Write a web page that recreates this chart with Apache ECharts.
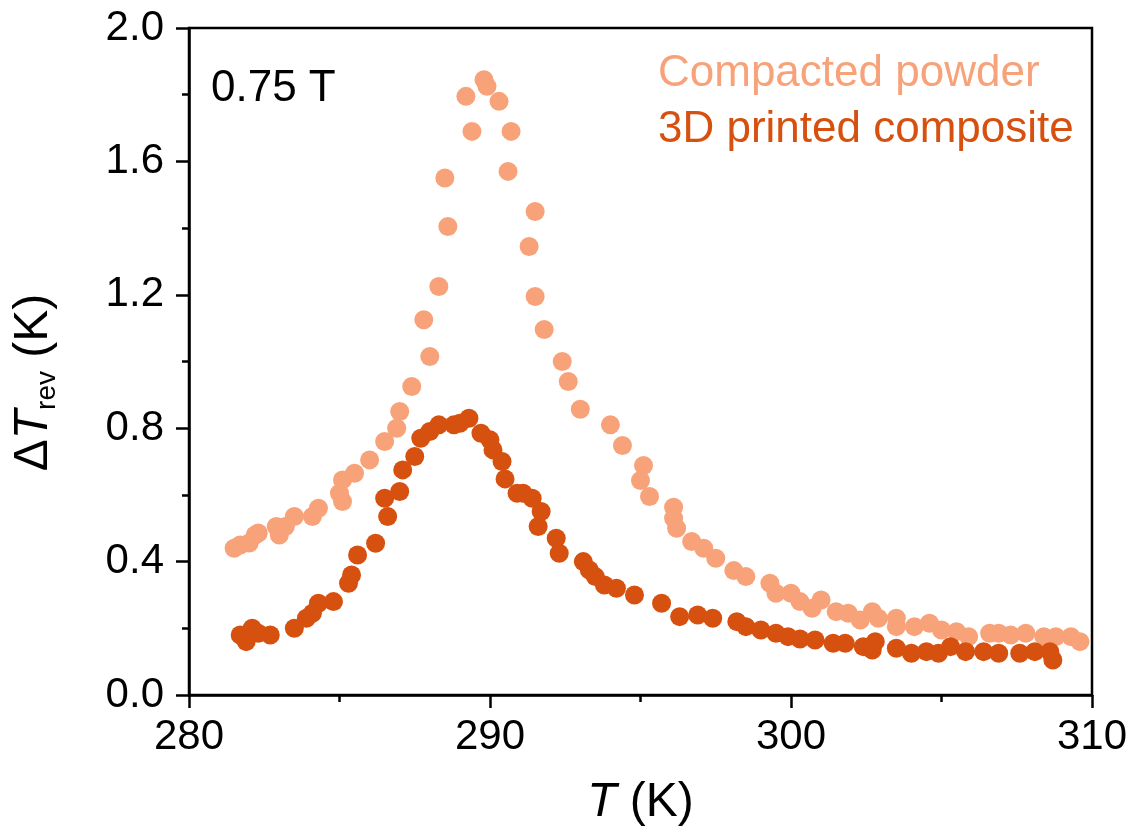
<!DOCTYPE html>
<html><head><meta charset="utf-8">
<script src="https://cdn.jsdelivr.net/npm/echarts@6/dist/echarts.min.js"></script>
<style>html,body{margin:0;padding:0;background:#fff}#c{width:1138px;height:839px}</style>
</head><body><div id="c"></div>
<script>
const powderT = [281.5,281.7,282.0,282.2,282.3,282.9,283.0,283.2,283.5,284.1,284.3,285.0,285.1,285.1,285.5,286.0,286.5,286.9,287.0,287.4,287.8,288.0,288.3,288.5,288.6,289.2,289.4,289.8,289.9,290.3,290.6,290.7,291.3,291.5,291.5,291.8,292.4,292.6,293.0,294.0,294.4,295.0,295.1,295.3,296.1,296.1,296.2,296.7,297.1,297.5,298.1,298.5,299.3,299.5,300.0,300.3,300.7,301.0,301.5,301.9,302.3,302.7,302.9,303.5,303.5,304.1,304.6,305.0,305.5,305.9,306.6,306.9,307.3,307.8,308.4,308.8,309.3,309.6];
const powderDT = [0.44,0.45,0.456,0.48,0.486,0.505,0.48,0.505,0.535,0.535,0.56,0.605,0.645,0.58,0.665,0.705,0.76,0.80,0.85,0.925,1.125,1.015,1.225,1.55,1.405,1.795,1.69,1.845,1.825,1.78,1.57,1.69,1.345,1.45,1.195,1.096,1.00,0.94,0.857,0.81,0.748,0.643,0.688,0.595,0.563,0.53,0.50,0.46,0.44,0.41,0.373,0.355,0.335,0.305,0.305,0.28,0.26,0.285,0.25,0.245,0.225,0.25,0.23,0.23,0.205,0.205,0.215,0.195,0.19,0.175,0.185,0.185,0.18,0.185,0.175,0.175,0.175,0.16];
const printedT = [281.7,281.9,282.1,282.3,282.7,283.5,283.9,284.1,284.3,284.8,285.3,285.4,285.6,286.2,286.5,286.6,287.0,287.1,287.5,287.7,288.0,288.3,288.8,289.0,289.3,289.7,290.0,290.1,290.4,290.5,290.9,291.1,291.4,291.6,291.7,292.2,292.3,293.1,293.3,293.5,293.8,294.2,294.8,295.7,296.3,296.9,297.4,298.2,298.5,299.0,299.5,299.9,300.3,300.8,301.4,301.8,302.4,302.7,302.8,303.5,304.0,304.5,304.9,305.3,305.8,306.4,306.9,307.6,308.1,308.6,308.7];
const printedDT = [0.18,0.16,0.20,0.185,0.18,0.20,0.23,0.245,0.275,0.28,0.335,0.36,0.42,0.455,0.59,0.535,0.61,0.675,0.715,0.77,0.79,0.81,0.81,0.815,0.83,0.785,0.765,0.735,0.70,0.648,0.605,0.605,0.59,0.505,0.55,0.47,0.425,0.40,0.375,0.355,0.33,0.32,0.30,0.275,0.235,0.24,0.23,0.22,0.205,0.195,0.185,0.175,0.168,0.165,0.155,0.155,0.145,0.135,0.16,0.14,0.125,0.13,0.125,0.145,0.13,0.13,0.125,0.125,0.13,0.13,0.105];
const seriesNames = ['Compacted powder','3D printed composite'];
const fieldLabel = '0.75 T';

const F = 'Liberation Sans, Arial, sans-serif';
const cLight = '#F8A27A', cDark = '#D6510F';
const zip = (a,b) => a.map((v,i)=>[v,b[i]]);
const chart = echarts.init(document.getElementById('c'));
chart.setOption({
  backgroundColor:'#fff',
  animation:false,
  grid:{left:189,right:46,top:28,bottom:144,show:true,borderColor:'#000',borderWidth:2.5},
  legend:{orient:'vertical',left:648,top:45,itemWidth:0,itemHeight:0,itemGap:8,icon:'circle',
    data:[{name:seriesNames[0],textStyle:{color:cLight}},{name:seriesNames[1],textStyle:{color:cDark}}],
    textStyle:{fontFamily:F,fontSize:44,lineHeight:48}},
  graphic:[{type:'text',left:211,top:67,style:{text:fieldLabel,font:'44px '+F,fill:'#000',textVerticalAlign:'middle'}}],
  xAxis:{type:'value',min:280,max:310,interval:10,
    axisLine:{onZero:false,lineStyle:{color:'#000',width:2.5}},
    axisTick:{show:true,inside:false,length:13,lineStyle:{color:'#000',width:2.5}},
    minorTick:{show:true,splitNumber:2,length:7,lineStyle:{color:'#000',width:2.5}},
    splitLine:{show:false},
    axisLabel:{fontFamily:F,fontSize:42,color:'#000',margin:21},
    name:'{i|T} (K)',nameLocation:'middle',nameGap:84,
    nameTextStyle:{fontFamily:F,fontSize:48,color:'#000',rich:{i:{fontFamily:F,fontSize:48,fontStyle:'italic',color:'#000'}}}},
  yAxis:{type:'value',min:0,max:2,interval:0.4,
    axisLine:{onZero:false,lineStyle:{color:'#000',width:2.5}},
    axisTick:{show:true,inside:false,length:13,lineStyle:{color:'#000',width:2.5}},
    minorTick:{show:true,splitNumber:2,length:7,lineStyle:{color:'#000',width:2.5}},
    splitLine:{show:false},
    axisLabel:{fontFamily:F,fontSize:42,color:'#000',margin:25,formatter:v=>v.toFixed(1)},
    name:'{d|Δ}{i|T}{s|rev}{n| (K)}',nameLocation:'middle',nameGap:128,
    nameTextStyle:{fontFamily:F,fontSize:48,color:'#000',padding:[0,42,0,0],
      rich:{d:{fontFamily:F,fontSize:48,color:'#000'},i:{fontFamily:F,fontSize:48,fontStyle:'italic',color:'#000'},
            s:{fontFamily:F,fontSize:28,color:'#000',verticalAlign:'bottom',padding:[26,0,0,0]},n:{fontFamily:F,fontSize:48,color:'#000'}}}},
  series:[
    {name:seriesNames[0],type:'scatter',data:zip(powderT,powderDT),symbolSize:19,itemStyle:{color:cLight,opacity:1}},
    {name:seriesNames[1],type:'scatter',data:zip(printedT,printedDT),symbolSize:19,itemStyle:{color:cDark,opacity:1}}
  ]
});
</script></body></html>
